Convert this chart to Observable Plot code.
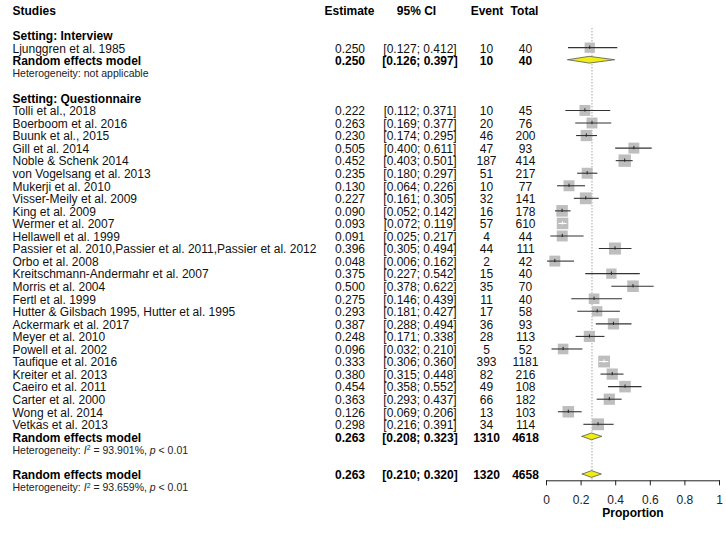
<!DOCTYPE html>
<html><head><meta charset="utf-8">
<script src="https://cdn.jsdelivr.net/npm/d3@7"></script>
<script src="https://cdn.jsdelivr.net/npm/@observablehq/plot@0.6"></script>
<style>
body{margin:0;background:#fff}
#chart{width:726px;height:540px}
</style>
</head><body><div id="chart"></div>
<script>
// ---------- data ----------
const studies = [
  "Ljunggren et al. 1985",
  "Tolli et al., 2018","Boerboom et al. 2016","Buunk et al., 2015","Gill et al. 2014",
  "Noble & Schenk 2014","von Vogelsang et al. 2013","Mukerji et al. 2010","Visser-Meily et al. 2009",
  "King et al. 2009","Wermer et al. 2007","Hellawell et al. 1999",
  "Passier et al. 2010,Passier et al. 2011,Passier et al. 2012","Orbo et al. 2008",
  "Kreitschmann-Andermahr et al. 2007","Morris et al. 2004","Fertl et al. 1999",
  "Hutter & Gilsbach 1995, Hutter et al. 1995","Ackermark et al. 2017","Meyer et al. 2010",
  "Powell et al. 2002","Taufique et al. 2016","Kreiter et al. 2013","Caeiro et al. 2011",
  "Carter et al. 2000","Wong et al. 2014","Vetkas et al. 2013"
];
const settings = ["Interview"].concat(Array(26).fill("Questionnaire"));
const estimates = [0.250,0.222,0.263,0.230,0.505,0.452,0.235,0.130,0.227,0.090,0.093,0.091,0.396,0.048,0.375,0.500,0.275,0.293,0.387,0.248,0.096,0.333,0.380,0.454,0.363,0.126,0.298];
const lowers    = [0.127,0.112,0.169,0.174,0.400,0.403,0.180,0.064,0.161,0.052,0.072,0.025,0.305,0.006,0.227,0.378,0.146,0.181,0.288,0.171,0.032,0.306,0.315,0.358,0.293,0.069,0.216];
const uppers    = [0.412,0.371,0.377,0.295,0.611,0.501,0.297,0.226,0.305,0.142,0.119,0.217,0.494,0.162,0.542,0.622,0.439,0.427,0.494,0.338,0.210,0.360,0.448,0.552,0.437,0.206,0.391];
const events    = [10,10,20,46,47,187,51,10,32,16,57,4,44,2,15,35,11,17,36,28,5,393,82,49,66,13,34];
const totals    = [40,45,76,200,93,414,217,77,141,178,610,44,111,42,40,70,40,58,93,113,52,1181,216,108,182,103,114];
const weights   = [3.1,3.5,3.5,3.7,3.5,4.5,3.5,3.5,4.1,3.9,3.9,3.5,4.3,3.5,3.1,3.9,3.3,3.1,3.7,3.7,3.3,4.1,3.7,3.9,3.7,3.9,4.1];

const groupNames  = ["Interview","Questionnaire"];
const groupEst    = [0.250, 0.263];
const groupLower  = [0.126, 0.208];
const groupUpper  = [0.397, 0.323];
const groupEvents = [10, 1310];
const groupTotals = [40, 4618];
const groupI2     = [null, "93.901%"];
const groupP      = [null, "< 0.01"];

const overallEst = 0.263, overallLower = 0.210, overallUpper = 0.320;
const overallEvents = 1320, overallTotal = 4658, overallI2 = "93.659%", overallP = "< 0.01";

const headers = ["Studies","Estimate","95% CI","Event","Total"];
const xTicks = [0, 0.2, 0.4, 0.6, 0.8, 1];
const axisLabel = "Proportion";

// ---------- layout ----------
const W = 726, H = 540;
const mL = 546, mR = 7, mT = 9.5, mB = 59.7;
const yMax = 37.5;
const colX = {study: 12, est: 349.5, ci: 419.5, ev: 486, tot: 525};
const headX = {study: 12, est: 349, ci: 416, ev: 486.5, tot: 524};
const R_MAX = 7.0;
const DH = 0.27;
const FS = 12, FS_HET = 10.5;
const FONT = "'Liberation Sans', Arial, Helvetica, sans-serif";

const f3 = d3.format(".3f");
const wMax = d3.max(weights);
const pxPerUnit = W - mL - mR;
const side = w => Math.sqrt(w / wMax) * R_MAX * Math.sqrt(Math.PI);

// ---------- rows ----------
let r = 0;
const headerRows = [{row: r}]; r += 2;
const groupHeaderRows = [], studyRows = [], summaryRows = [], hetRows = [];
groupNames.forEach((g, gi) => {
  groupHeaderRows.push({row: r, label: "Setting: " + g}); r++;
  studies.forEach((s, i) => {
    if (settings[i] !== g) return;
    studyRows.push({row: r, label: s, est: estimates[i], lo: lowers[i], hi: uppers[i], ev: events[i], n: totals[i], w: weights[i],
      inside: (uppers[i] - lowers[i]) * pxPerUnit < side(weights[i])});
    r++;
  });
  summaryRows.push({row: r, label: "Random effects model", est: groupEst[gi], lo: groupLower[gi], hi: groupUpper[gi], ev: groupEvents[gi], n: groupTotals[gi]}); r++;
  hetRows.push({row: r, text: groupI2[gi] == null ? "Heterogeneity: not applicable" : `Heterogeneity: I^2 = ${groupI2[gi]}, p ${groupP[gi]}`}); r++;
  r++;
});
summaryRows.push({row: r, label: "Random effects model", est: overallEst, lo: overallLower, hi: overallUpper, ev: overallEvents, n: overallTotal}); r++;
hetRows.push({row: r, text: `Heterogeneity: I^2 = ${overallI2}, p ${overallP}`});

const firstStudyRow = studyRows[0].row;
const ciText = d => `[${f3(d.lo)}; ${f3(d.hi)}]`;

function col(data, text, px, anchor, opts = {}) {
  return Plot.text(data, {y: "row", text, frameAnchor: "left", dx: px - mL, dy: 1, textAnchor: anchor,
    fontSize: FS, fill: "#111", ...opts});
}

const diamondPts = summaryRows.flatMap((d, i) => [
  {id: i, x: d.lo, y1: d.row, y2: d.row},
  {id: i, x: d.est, y1: d.row - DH, y2: d.row + DH},
  {id: i, x: d.hi, y1: d.row, y2: d.row}
]);

const bold = {fontWeight: "bold", fill: "#000"};

const chart = Plot.plot({
  width: W, height: H,
  marginLeft: mL, marginRight: mR, marginTop: mT, marginBottom: mB,
  style: {fontFamily: FONT, fontSize: FS + "px", background: "#fff", color: "#222"},
  x: {domain: [0, 1], ticks: xTicks, tickFormat: d => String(d), tickSize: 5, tickPadding: 10, label: null, line: true},
  y: {domain: [0, yMax], reverse: true, axis: null},
  r: {type: "sqrt", domain: [0, wMax], range: [0, R_MAX]},
  marks: [
    // reference dotted line at the overall estimate
    Plot.ruleX([overallEst], {x: d => d, y1: firstStudyRow - 1.5, y2: yMax, stroke: "#777", strokeDasharray: "1,2", strokeWidth: 1}),
    // squares
    Plot.dot(studyRows, {x: "est", y: "row", r: "w", symbol: "square", fill: "#bebebe", stroke: "none"}),
    // CI lines
    Plot.ruleY(studyRows.filter(d => !d.inside), {y: "row", x1: "lo", x2: "hi", stroke: "#333", strokeWidth: 1.1}),
    Plot.ruleY(studyRows.filter(d => d.inside), {y: "row", x1: "lo", x2: "hi", stroke: "#fff", strokeWidth: 1.1}),
    Plot.ruleX(studyRows.filter(d => !d.inside), {x: "est", y1: d => d.row - 0.13, y2: d => d.row + 0.13, stroke: "#222", strokeWidth: 1}),
    Plot.ruleX(studyRows.filter(d => d.inside), {x: "est", y1: d => d.row - 0.13, y2: d => d.row + 0.13, stroke: "#fff", strokeWidth: 1}),
    // diamonds
    Plot.areaY(diamondPts, {x: "x", y1: "y1", y2: "y2", z: "id", fill: "#eeee10", stroke: "#555", strokeWidth: 0.8}),
    // headers
    col(headerRows, () => headers[0], headX.study, "start", bold),
    col(headerRows, () => headers[1], headX.est, "middle", bold),
    col(headerRows, () => headers[2], headX.ci, "middle", bold),
    col(headerRows, () => headers[3], headX.ev, "middle", bold),
    col(headerRows, () => headers[4], headX.tot, "middle", bold),
    // group headers
    col(groupHeaderRows, "label", colX.study, "start", bold),
    // studies
    col(studyRows, "label", colX.study, "start"),
    col(studyRows, d => f3(d.est), colX.est, "middle"),
    col(studyRows, ciText, colX.ci, "middle"),
    col(studyRows, d => String(d.ev), colX.ev, "middle"),
    col(studyRows, d => String(d.n), colX.tot, "middle"),
    // summaries
    col(summaryRows, "label", colX.study, "start", bold),
    col(summaryRows, d => f3(d.est), colX.est, "middle", bold),
    col(summaryRows, ciText, colX.ci, "middle", bold),
    col(summaryRows, d => String(d.ev), colX.ev, "middle", bold),
    col(summaryRows, d => String(d.n), colX.tot, "middle", bold),
    // heterogeneity
    col(hetRows, "text", colX.study, "start", {fontSize: FS_HET, fill: "#222"}),
    // axis label
    Plot.text([axisLabel], {text: d => d, frameAnchor: "bottom", lineAnchor: "middle", dy: 32.5, fontWeight: "bold", fontSize: FS, fill: "#000"})
  ]
});

// rich text for heterogeneity statistics (italic I, superscript 2, italic p)
d3.select(chart).selectAll("text").each(function () {
  const m = this.textContent.match(/^Heterogeneity: I\^2 = (.*), p (.*)$/);
  if (!m) return;
  const t = d3.select(this);
  t.text("");
  t.append("tspan").text("Heterogeneity: ");
  t.append("tspan").attr("font-style", "italic").text("I");
  t.append("tspan").attr("dy", "-3.5").attr("font-size", "7").text("2");
  t.append("tspan").attr("dy", "3.5").text(" = " + m[1] + ", ");
  t.append("tspan").attr("font-style", "italic").text("p");
  t.append("tspan").text(" " + m[2]);
});

document.getElementById("chart").appendChild(chart);
</script>
</body></html>
